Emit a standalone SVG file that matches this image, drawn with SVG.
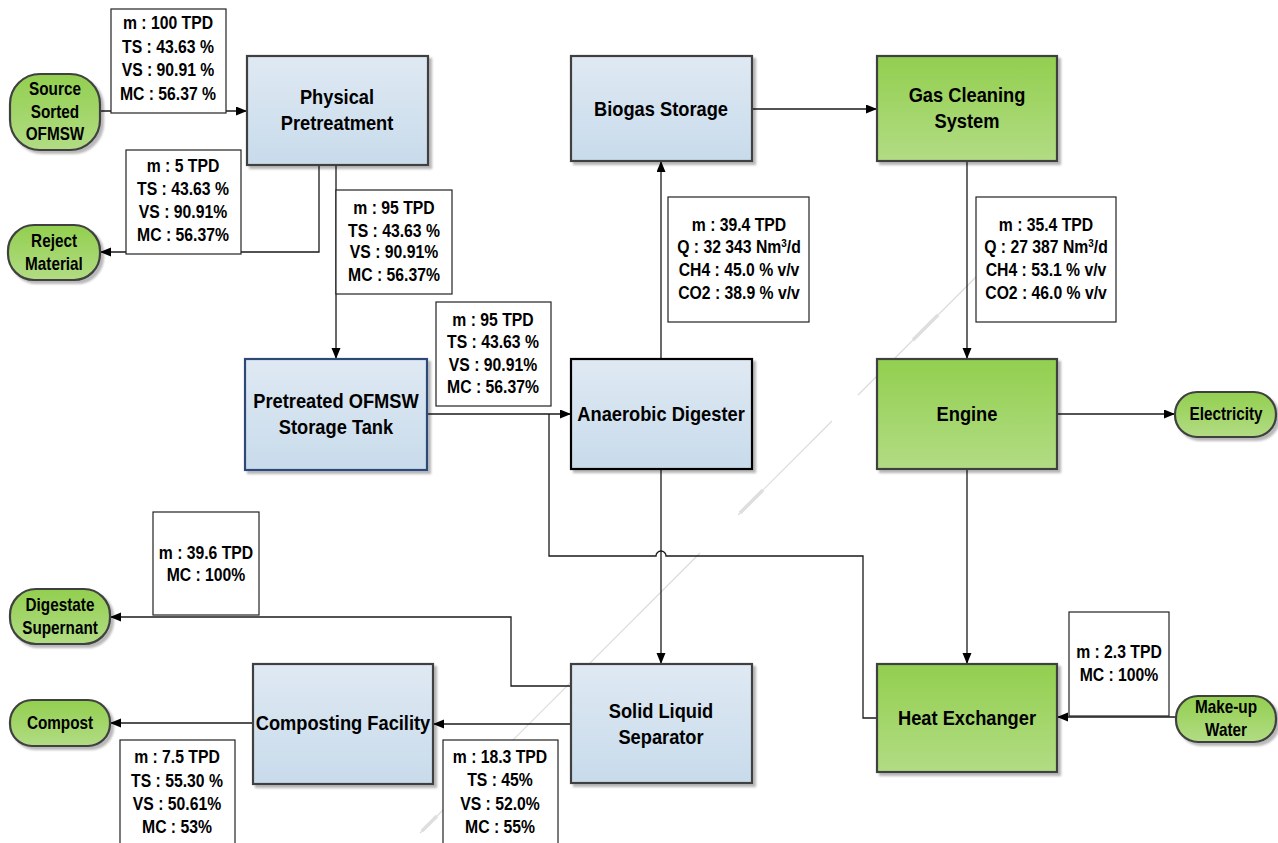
<svg xmlns="http://www.w3.org/2000/svg" width="1278" height="843" viewBox="0 0 1278 843">
  <defs>
    <linearGradient id="gBlue" x1="0" y1="0" x2="0" y2="1">
      <stop offset="0" stop-color="#dfe9f3"/>
      <stop offset="1" stop-color="#c8dbeb"/>
    </linearGradient>
    <linearGradient id="gGreen" x1="0" y1="0" x2="0" y2="1">
      <stop offset="0" stop-color="#92cf4f"/>
      <stop offset="1" stop-color="#b2dc84"/>
    </linearGradient>
    <filter id="shadow" x="-10%" y="-10%" width="130%" height="130%">
      <feDropShadow dx="3" dy="3" stdDeviation="1.2" flood-color="#000" flood-opacity="0.28"/>
    </filter>
    <marker id="arrow" markerUnits="userSpaceOnUse" markerWidth="12" markerHeight="10" refX="11" refY="4.5" orient="auto">
      <path d="M0,0 L11,4.5 L0,9 z" fill="#000"/>
    </marker>
  </defs>
  <style>
    .proc { fill: url(#gBlue); stroke: #404040; stroke-width: 2.2; filter: url(#shadow); }
    .green { fill: url(#gGreen); stroke: #404040; stroke-width: 2.2; filter: url(#shadow); }
    .pill { fill: url(#gGreen); stroke: #404040; stroke-width: 2.2; filter: url(#shadow); }
    .data { fill: #fff; stroke: #222; stroke-width: 1.2; }
    text { font-family: "Liberation Sans", Arial, sans-serif; font-weight: bold; fill: #000; text-anchor: middle; transform-box: fill-box; transform-origin: center; }
    .title { font-size: 21px; transform: scaleX(0.87); }
    .small { font-size: 17.5px; transform: scaleX(0.9); }
    .term { font-size: 18px; transform: scaleX(0.85); }
    .wire { fill: none; stroke: #1a1a1a; stroke-width: 1.3; }
    .streak { stroke: #dadada; stroke-width: 1.1; fill: none; }
    .streak2 { stroke: #dedede; stroke-width: 3.5; fill: none; }
  </style>

  <!-- faint diagonal streak across the sheet -->
  <g id="streak">
    <line class="streak" x1="420" y1="833" x2="700" y2="553"/>
    <line class="streak" x1="738" y1="515" x2="832" y2="421"/>
    <line class="streak" x1="858" y1="395" x2="985" y2="268"/>
    <line class="streak2" x1="740" y1="513" x2="763" y2="490"/>
    <line class="streak2" x1="913" y1="340" x2="938" y2="315"/>
    <line class="streak2" x1="422" y1="831" x2="437" y2="816"/>
  </g>

  <!-- connectors -->
  <g id="connectors">
    <path class="wire" d="M100,111 H247" marker-end="url(#arrow)"/>
    <path class="wire" d="M319,165 V252 H100" marker-end="url(#arrow)"/>
    <path class="wire" d="M336,165 V359" marker-end="url(#arrow)"/>
    <path class="wire" d="M427,414 H571" marker-end="url(#arrow)"/>
    <path class="wire" d="M549,414 V556 H656 A5,5 0 0 1 666,556 H863 V718 H877"/>
    <path class="wire" d="M661,359 V161" marker-end="url(#arrow)"/>
    <path class="wire" d="M752,109 H877" marker-end="url(#arrow)"/>
    <path class="wire" d="M967,161 V359" marker-end="url(#arrow)"/>
    <path class="wire" d="M1057,414 H1175" marker-end="url(#arrow)"/>
    <path class="wire" d="M967,469 V664" marker-end="url(#arrow)"/>
    <path class="wire" d="M1176,717 H1057" marker-end="url(#arrow)"/>
    <path class="wire" d="M661,469 V664" marker-end="url(#arrow)"/>
    <path class="wire" d="M571,686 H511 V617 H110" marker-end="url(#arrow)"/>
    <path class="wire" d="M571,724 H433" marker-end="url(#arrow)"/>
    <path class="wire" d="M253,723 H110" marker-end="url(#arrow)"/>
  </g>

  <!-- process units -->
  <g id="physical-pretreatment">
    <rect class="proc" x="247" y="56" width="181" height="109"/>
    <text class="title" x="337" y="104">Physical</text>
    <text class="title" x="337" y="130">Pretreatment</text>
  </g>
  <g id="storage-tank">
    <rect class="proc" x="245" y="359" width="182" height="111" style="stroke:#2d4a78"/>
    <text class="title" x="336" y="408">Pretreated OFMSW</text>
    <text class="title" x="336" y="434">Storage Tank</text>
  </g>
  <g id="anaerobic-digester">
    <rect class="proc" x="571" y="359" width="181" height="110" style="stroke:#000"/>
    <text class="title" x="661" y="421">Anaerobic Digester</text>
  </g>
  <g id="biogas-storage">
    <rect class="proc" x="571" y="56" width="181" height="105"/>
    <text class="title" x="661" y="116">Biogas Storage</text>
  </g>
  <g id="gas-cleaning">
    <rect class="green" x="877" y="56" width="180" height="105"/>
    <text class="title" x="967" y="102">Gas Cleaning</text>
    <text class="title" x="967" y="128">System</text>
  </g>
  <g id="engine">
    <rect class="green" x="877" y="359" width="180" height="110"/>
    <text class="title" x="967" y="421">Engine</text>
  </g>
  <g id="heat-exchanger">
    <rect class="green" x="877" y="664" width="180" height="108"/>
    <text class="title" x="967" y="725">Heat Exchanger</text>
  </g>
  <g id="solid-liquid-separator">
    <rect class="proc" x="571" y="664" width="181" height="119"/>
    <text class="title" x="661" y="718">Solid Liquid</text>
    <text class="title" x="661" y="744">Separator</text>
  </g>
  <g id="composting-facility">
    <rect class="proc" x="253" y="664" width="180" height="120"/>
    <text class="title" x="343" y="730">Composting Facility</text>
  </g>

  <!-- inputs and outputs -->
  <g id="source-ofmsw">
    <rect class="pill" x="10" y="74" width="90" height="76" rx="30" ry="30"/>
    <text class="term" x="55" y="95">Source</text>
    <text class="term" x="55" y="118">Sorted</text>
    <text class="term" x="55" y="140">OFMSW</text>
  </g>
  <g id="reject-material">
    <rect class="pill" x="8" y="225" width="92" height="55" rx="26" ry="26"/>
    <text class="term" x="54" y="247">Reject</text>
    <text class="term" x="54" y="270">Material</text>
  </g>
  <g id="electricity">
    <rect class="pill" x="1175" y="392" width="101" height="45" rx="22" ry="22"/>
    <text class="term" x="1226" y="420">Electricity</text>
  </g>
  <g id="make-up-water">
    <rect class="pill" x="1176" y="696" width="100" height="46" rx="22" ry="22"/>
    <text class="term" x="1226" y="713">Make-up</text>
    <text class="term" x="1226" y="736">Water</text>
  </g>
  <g id="digestate-supernant">
    <rect class="pill" x="10" y="589" width="100" height="55" rx="26" ry="26"/>
    <text class="term" x="60" y="611">Digestate</text>
    <text class="term" x="60" y="634">Supernant</text>
  </g>
  <g id="compost">
    <rect class="pill" x="10" y="700" width="100" height="46" rx="22" ry="22"/>
    <text class="term" x="60" y="729">Compost</text>
  </g>

  <!-- stream data -->
  <g id="data-feed">
    <rect class="data" x="111" y="9" width="115" height="104"/>
    <text class="small" x="168" y="29">m : 100 TPD</text>
    <text class="small" x="168" y="53">TS : 43.63 %</text>
    <text class="small" x="168" y="76">VS : 90.91 %</text>
    <text class="small" x="168" y="100">MC : 56.37 %</text>
  </g>
  <g id="data-reject">
    <rect class="data" x="126" y="150" width="115" height="104"/>
    <text class="small" x="183" y="172">m : 5 TPD</text>
    <text class="small" x="183" y="195">TS : 43.63 %</text>
    <text class="small" x="183" y="218">VS : 90.91%</text>
    <text class="small" x="183" y="241">MC : 56.37%</text>
  </g>
  <g id="data-pretreated">
    <rect class="data" x="336" y="190" width="116" height="104"/>
    <text class="small" x="394" y="214">m : 95 TPD</text>
    <text class="small" x="394" y="237">TS : 43.63 %</text>
    <text class="small" x="394" y="258">VS : 90.91%</text>
    <text class="small" x="394" y="281">MC : 56.37%</text>
  </g>
  <g id="data-digester-feed">
    <rect class="data" x="436" y="302" width="115" height="104"/>
    <text class="small" x="493" y="326">m : 95 TPD</text>
    <text class="small" x="493" y="348">TS : 43.63 %</text>
    <text class="small" x="493" y="371">VS : 90.91%</text>
    <text class="small" x="493" y="393">MC : 56.37%</text>
  </g>
  <g id="data-biogas">
    <rect class="data" x="668" y="197" width="141" height="125"/>
    <text class="small" x="739" y="231">m : 39.4 TPD</text>
    <text class="small" x="739" y="253">Q : 32 343 Nm<tspan dy="-6" font-size="11">3</tspan><tspan dy="6">/d</tspan></text>
    <text class="small" x="739" y="276">CH4 : 45.0 % v/v</text>
    <text class="small" x="739" y="299">CO2 : 38.9 % v/v</text>
  </g>
  <g id="data-clean-gas">
    <rect class="data" x="976" y="197" width="140" height="125"/>
    <text class="small" x="1046" y="231">m : 35.4 TPD</text>
    <text class="small" x="1046" y="253">Q : 27 387 Nm<tspan dy="-6" font-size="11">3</tspan><tspan dy="6">/d</tspan></text>
    <text class="small" x="1046" y="276">CH4 : 53.1 % v/v</text>
    <text class="small" x="1046" y="299">CO2 : 46.0 % v/v</text>
  </g>
  <g id="data-supernant">
    <rect class="data" x="153" y="512" width="106" height="103"/>
    <text class="small" x="206" y="559">m : 39.6 TPD</text>
    <text class="small" x="206" y="581">MC : 100%</text>
  </g>
  <g id="data-makeup">
    <rect class="data" x="1069" y="612" width="100" height="104"/>
    <text class="small" x="1119" y="658">m : 2.3 TPD</text>
    <text class="small" x="1119" y="681">MC : 100%</text>
  </g>
  <g id="data-compost">
    <rect class="data" x="120" y="740" width="115" height="110"/>
    <text class="small" x="177" y="763">m : 7.5 TPD</text>
    <text class="small" x="177" y="787">TS : 55.30 %</text>
    <text class="small" x="177" y="810">VS : 50.61%</text>
    <text class="small" x="177" y="833">MC : 53%</text>
  </g>
  <g id="data-solids">
    <rect class="data" x="443" y="740" width="115" height="110"/>
    <text class="small" x="500" y="763">m : 18.3 TPD</text>
    <text class="small" x="500" y="786">TS : 45%</text>
    <text class="small" x="500" y="810">VS : 52.0%</text>
    <text class="small" x="500" y="833">MC : 55%</text>
  </g>
</svg>
